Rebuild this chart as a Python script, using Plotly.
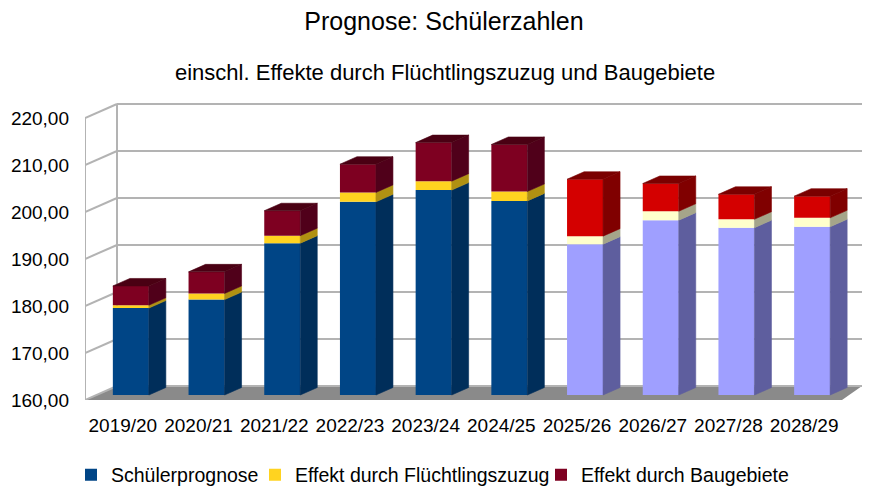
import plotly.graph_objects as go

# ---------------- data ----------------
categories = ["2019/20", "2020/21", "2021/22", "2022/23", "2023/24",
              "2024/25", "2025/26", "2026/27", "2027/28", "2028/29"]
schuelerprognose = [178.5, 180.3, 192.3, 201.1, 203.6, 201.3, 192.1, 197.2, 195.6, 195.8]
effekt_fluechtlinge = [0.6, 1.3, 1.6, 2.0, 1.9, 2.0, 1.7, 1.9, 1.8, 1.9]
effekt_baugebiete = [4.1, 4.6, 5.3, 6.0, 8.2, 10.0, 12.1, 5.9, 5.3, 4.6]
y_ticks = [160, 170, 180, 190, 200, 210, 220]
series_names = ["Schülerprognose", "Effekt durch Flüchtlingszuzug", "Effekt durch Baugebiete"]
n_hist = 6  # first six school years drawn in dark colours, the rest as projection

# ---------------- styling / geometry (pixels) ----------------
W, H = 871, 487
L_PX, R_PX, T_PX, B_PX = 85, 866, 98, 400
PX_CAT = 75.7          # pixels per category
PX_UNIT = 4.7          # pixels per value unit
Y0 = 160
x_min = -0.5
x_max = x_min + (R_PX - L_PX) / PX_CAT
y_max = Y0 + (B_PX - T_PX) / PX_UNIT

wall_dx = 32 / PX_CAT        # depth of the walls
wall_dy = 14 / PX_UNIT
floor_right_front = 9.5
floor_right_back = x_min + (862 - L_PX) / PX_CAT

bar_w = 36 / PX_CAT
bar_shift = 8 / PX_CAT
bar_lift = 5 / PX_UNIT
side_dx = 17 / PX_CAT
side_dy = 7.5 / PX_UNIT

front_cols = [
    ["#004586"] * n_hist + ["#9f9fff"] * (len(categories) - n_hist),
    ["#ffd320"] * n_hist + ["#ffffcc"] * (len(categories) - n_hist),
    ["#7e0021"] * n_hist + ["#d40000"] * (len(categories) - n_hist),
]
side_cols = [
    ["#002e5a"] * n_hist + ["#5e5e9e"] * (len(categories) - n_hist),
    ["#b09112"] * n_hist + ["#a5a58a"] * (len(categories) - n_hist),
    ["#50001a"] * n_hist + ["#800000"] * (len(categories) - n_hist),
]
top_cols = ["#4a0013"] * n_hist + ["#7a0000"] * (len(categories) - n_hist)
grid_col = "#b3b3b3"
floor_col = "#8a8a8a"
FONT = "Liberation Sans"
legend_text_px = [111, 295, 581]   # left edge of each legend text
legend_ids = ["legend", "legend2", "legend3"]

# ---------------- figure ----------------
fig = go.Figure()

xs = list(range(len(categories)))
b1 = [Y0 + bar_lift] * len(categories)
t1 = [v + bar_lift for v in schuelerprognose]
t2 = [a + b for a, b in zip(t1, effekt_fluechtlinge)]
t3 = [a + b for a, b in zip(t2, effekt_baugebiete)]
segments = [(b1, t1), (t1, t2), (t2, t3)]

for k, (bot, top) in enumerate(segments):
    fig.add_trace(go.Bar(
        x=xs, y=[t - b for t, b in zip(top, bot)], base=bot,
        width=bar_w, offset=-bar_w / 2 + bar_shift,
        marker=dict(color=front_cols[k], line=dict(width=0)),
        name=series_names[k], hoverinfo="skip", legend=legend_ids[k],
    ))

# 3D side faces and top faces from the same data
polys = {}
def add_poly(color, px, py):
    d = polys.setdefault(color, ([], []))
    d[0].extend(px + [px[0], None])
    d[1].extend(py + [py[0], None])

for k, (bot, top) in enumerate(segments):
    for i in xs:
        xr = i - bar_w / 2 + bar_shift + bar_w
        add_poly(side_cols[k][i],
                 [xr, xr + side_dx, xr + side_dx, xr],
                 [bot[i], bot[i] + side_dy, top[i] + side_dy, top[i]])
for i in xs:
    xl = i - bar_w / 2 + bar_shift
    xr = xl + bar_w
    tp = t3[i]
    add_poly(top_cols[i],
             [xl, xr, xr + side_dx, xl + side_dx],
             [tp, tp, tp + side_dy, tp + side_dy])

for color, (px, py) in polys.items():
    fig.add_trace(go.Scatter(x=px, y=py, mode="lines", fill="toself",
                             fillcolor=color, line=dict(width=0.6, color=color),
                             showlegend=False, hoverinfo="skip"))

# walls, grid and floor
shapes = []
xb = x_min + wall_dx
shapes.append(dict(type="path", layer="below", xref="x", yref="y",
                   path=f"M {x_min},{Y0} L {floor_right_front},{Y0} L {floor_right_back},{Y0 + wall_dy} L {xb},{Y0 + wall_dy} Z",
                   fillcolor=floor_col, line=dict(width=0)))
for v in y_ticks:
    shapes.append(dict(type="line", layer="below", xref="x", yref="y",
                       x0=xb, x1=floor_right_back, y0=v + wall_dy, y1=v + wall_dy,
                       line=dict(color=grid_col, width=2)))
    shapes.append(dict(type="line", layer="below", xref="x", yref="y",
                       x0=x_min, x1=xb, y0=v, y1=v + wall_dy,
                       line=dict(color=grid_col, width=2)))
shapes.append(dict(type="line", layer="below", xref="x", yref="y",
                   x0=x_min, x1=x_min, y0=y_ticks[0], y1=y_ticks[-1],
                   line=dict(color=grid_col, width=2)))
shapes.append(dict(type="line", layer="below", xref="x", yref="y",
                   x0=xb, x1=xb, y0=y_ticks[0] + wall_dy, y1=y_ticks[-1] + wall_dy,
                   line=dict(color=grid_col, width=2)))

legend_layouts = {}
for k, lid in enumerate(legend_ids):
    legend_layouts[lid] = dict(
        orientation="h", xref="container", yref="container",
        x=(legend_text_px[k] - 40) / W, xanchor="left",
        y=1 - 475 / H, yanchor="middle",
        font=dict(size=19.5, family=FONT, color="#000000"),
        bgcolor="rgba(0,0,0,0)", borderwidth=0)

fig.update_layout(
    template="none",
    width=W, height=H,
    margin=dict(l=L_PX, r=W - R_PX, t=T_PX, b=H - B_PX, pad=0, autoexpand=False),
    paper_bgcolor="white", plot_bgcolor="white",
    barmode="overlay", separators=", ",
    font=dict(family=FONT, color="#000000", size=19),
    title=dict(text="Prognose: Schülerzahlen", font=dict(size=25, family=FONT, color="#000000"),
               x=444 / W, xref="container", xanchor="center",
               y=1 - 21 / H, yref="container", yanchor="middle"),
    annotations=[dict(text="einschl. Effekte durch Flüchtlingszuzug und Baugebiete",
                      xref="paper", yref="paper",
                      x=(444.5 - L_PX) / (R_PX - L_PX), y=(B_PX - 73) / (B_PX - T_PX),
                      xanchor="center", yanchor="middle", showarrow=False,
                      font=dict(size=22, family=FONT, color="#000000"))],
    shapes=shapes,
    showlegend=True,
    **legend_layouts,
    xaxis=dict(range=[x_min, x_max], tickvals=xs, ticktext=categories, automargin=False,
               showgrid=False, zeroline=False, showline=False, ticks="",
               ticklabelstandoff=12, tickfont=dict(size=19, family=FONT, color="#000000"),
               fixedrange=True),
    yaxis=dict(range=[Y0, y_max], tickvals=y_ticks, tickformat=".2f", automargin=False,
               showgrid=False, zeroline=False, showline=False, ticks="",
               ticklabelstandoff=15, tickfont=dict(size=19, family=FONT, color="#000000"),
               fixedrange=True),
)

fig.write_html("out.html", config={"displayModeBar": False},
               post_script="document.body.style.margin='0px';document.body.style.overflow='hidden';")
